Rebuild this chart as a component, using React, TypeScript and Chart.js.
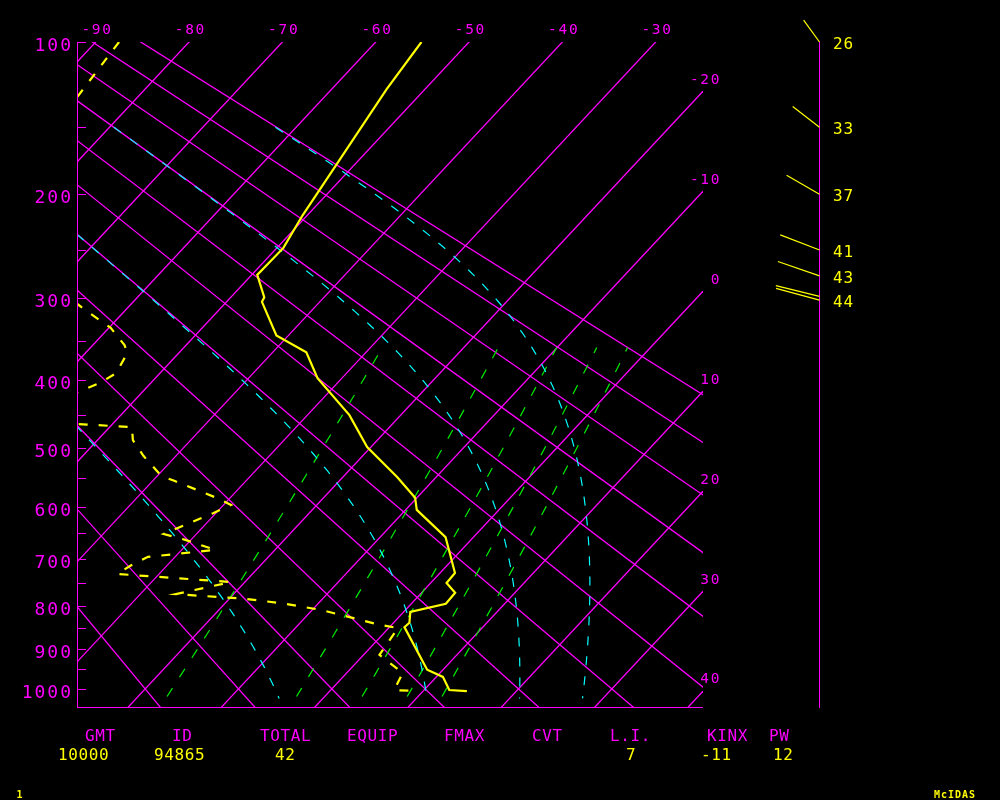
import React, { useEffect, useRef } from "react";
import { Chart, registerables } from "chart.js";

Chart.register(...registerables);

// ---- diagram geometry (p^kappa vertical, skewed temperature) ----
const KAPPA = 0.286;
const SKEW = 18.6; // degC of skew per unit of p^kappa
const P_TOP = 100;
const P_BOTTOM = 1048;
const X_LEFT = -91.9; // temperature at 100 hPa on left edge
const X_RIGHT = -24.93; // temperature at 100 hPa on right edge

// ---- reference line sets ----
const isotherms = [-90, -80, -70, -60, -50, -40, -30, -20, -10, 0, 10, 20, 30, 40];
const dryAdiabats = [-20, -10, 0, 10, 20, 30, 40, 50, 60, 70, 80, 90];
const mixingRatios = [1, 3, 5, 7, 9];
const moistAdiabats = [0, 30, 60, 90];
const pressureTicks = [100, 150, 200, 250, 300, 350, 400, 450, 500, 550, 600, 650, 700, 750, 800, 850, 900, 950, 1000];
const pressureLabels = [100, 200, 300, 400, 500, 600, 700, 800, 900, 1000];
const topTempLabels = [-90, -80, -70, -60, -50, -40, -30];
const rightTempLabels = [-20, -10, 0, 10, 20, 30, 40];

// ---- sounding ----
const tempPressure = [100, 126, 175, 218, 248, 275, 299, 304, 343, 364, 398, 450, 499, 548, 584, 606, 657, 729, 750, 771, 795, 813, 838, 848, 951, 969, 1003, 1006];
const tempValues = [-55.1, -54.1, -52.0, -50.5, -49.3, -49.4, -46.4, -46.2, -41.3, -36.4, -32.6, -25.5, -20.4, -14.2, -10.2, -8.8, -3.0, 1.6, 1.7, 3.6, 3.7, 0.7, 1.7, 1.6, 8.3, 10.7, 12.7, 14.7];

const dewPressure = [100, 130, 159, 275, 310, 327, 334, 355, 365, 391, 404, 417, 428, 460, 468, 488, 513, 546, 555, 572, 586, 597, 612, 651, 662, 682, 696, 714, 731, 748, 774, 784, 794, 809, 831, 843, 850, 914, 959, 1003, 1005];
const dewValues = [-87.5, -86.5, -85.1, -72.7, -65.0, -61.3, -59.8, -56.6, -55.5, -54.7, -55.4, -56.9, -60.2, -58.0, -47.6, -46.2, -43.5, -39.6, -37.6, -34.0, -31.1, -29.2, -30.3, -33.5, -30.7, -26.4, -32.9, -33.9, -34.5, -21.5, -26.2, -18.4, -13.9, -9.0, -3.9, -1.2, 1.0, 1.7, 6.0, 6.8, 8.6];

// ---- winds ----
const windPressure = [100, 150, 200, 250, 276, 298, 302];
const windSpeed = [26, 33, 37, 41, 43, 44, 44];
const windDir = [324, 308, 300, 291, 289, 284, 285];
const windLabels = ["26", "33", "37", "41", "43", "", "44"];

// ---- footer ----
const footerHeads = ["GMT", "ID", "TOTAL", "EQUIP", "FMAX", "CVT", "L.I.", "KINX", "PW"];
const footerHeadX = [85, 172, 260, 347, 444, 532, 610, 707, 769];
const footerValues = ["10000", "94865", "42", "7", "-11", "12"];
const footerValueX = [58, 154, 275, 626, 701, 773];

const MAGENTA = "#ff00ff";
const YELLOW = "#ffff00";
const CYAN = "#00ffff";
const GREEN = "#00ee00";

const Y0 = Math.pow(P_TOP, KAPPA);
const Y1000 = Math.pow(1000, KAPPA);
const YBOT = Math.pow(P_BOTTOM, KAPPA);

function toXY(t: number, p: number) {
  const y = Math.pow(p, KAPPA);
  return { x: t - SKEW * (y - Y0), y };
}

function satVap(tc: number) {
  return 6.112 * Math.exp((17.67 * tc) / (tc + 243.5));
}

function thetaE(tc: number, p: number) {
  const tk = tc + 273.15;
  const es = satVap(tc);
  const ws = (0.622 * es) / (p - es);
  const th = tk * Math.pow(1000 / p, KAPPA);
  return th * Math.exp((2.5e6 * ws) / (1004 * tk));
}

function moistLine(thetaEc: number) {
  const target = thetaEc + 273.15;
  const pts: { x: number; y: number }[] = [];
  for (let p = 150; p <= 1025; p += 5) {
    let lo = -130,
      hi = 50;
    for (let i = 0; i < 50; i++) {
      const mid = (lo + hi) / 2;
      if (thetaE(mid, p) > target) hi = mid;
      else lo = mid;
    }
    pts.push(toXY((lo + hi) / 2, p));
  }
  return pts;
}

function mixingLine(w: number) {
  const pts: { x: number; y: number }[] = [];
  const tAt = (p: number) => {
    const es = (w * p) / (622 + w);
    const l = Math.log(es / 6.112);
    return (243.5 * l) / (17.67 - l);
  };
  for (let p = 1020; p > 358; p -= 20) pts.push(toXY(tAt(p), p));
  pts.push(toXY(tAt(358), 358));
  return pts;
}

function drawStr(
  ctx: CanvasRenderingContext2D,
  s: string,
  x: number,
  y: number,
  size: number,
  color: string,
  align: "left" | "right" | "center",
  spacing: number,
  bold = false
) {
  ctx.save();
  ctx.font = `${bold ? "bold " : ""}${size}px "DejaVu Sans Mono", monospace`;
  ctx.fillStyle = color;
  ctx.textBaseline = "alphabetic";
  ctx.textAlign = "left";
  const adv = ctx.measureText("0").width + spacing;
  const w = adv * s.length - spacing;
  const x0 = align === "left" ? x : align === "right" ? x - w : x - w / 2;
  for (let i = 0; i < s.length; i++) ctx.fillText(s[i], x0 + i * adv, y);
  ctx.restore();
}

const skewPlugin = {
  id: "skewDecor",
  beforeDraw(chart: any) {
    const ctx = chart.ctx;
    ctx.save();
    ctx.fillStyle = "#000";
    ctx.fillRect(0, 0, chart.width, chart.height);
    ctx.restore();
  },
  beforeDatasetsDraw(chart: any) {
    const ctx = chart.ctx as CanvasRenderingContext2D;
    const xs = chart.scales.x;
    const ys = chart.scales.y;
    const left = Math.round(xs.getPixelForValue(X_LEFT));
    const right = Math.round(xs.getPixelForValue(X_RIGHT));
    const top = Math.round(ys.getPixelForValue(Y0));
    const bottom = Math.round(ys.getPixelForValue(YBOT));
    ctx.save();
    ctx.fillStyle = MAGENTA;
    ctx.fillRect(left - 1, top, 1, bottom - top + 1);
    ctx.fillRect(left - 1, bottom, right - left + 1, 1);
    for (const p of pressureTicks) {
      const py = Math.round(ys.getPixelForValue(Math.pow(p, KAPPA)));
      ctx.fillRect(left - 1, py, 9, 1);
    }
    // wind staff
    ctx.fillRect(819, top, 1, bottom - top + 1);
    ctx.restore();
  },
  afterDatasetsDraw(chart: any) {
    const ctx = chart.ctx as CanvasRenderingContext2D;
    const xs = chart.scales.x;
    const ys = chart.scales.y;
    const right = xs.getPixelForValue(X_RIGHT);
    for (const p of pressureLabels) {
      const py = ys.getPixelForValue(Math.pow(p, KAPPA));
      drawStr(ctx, String(p), 71, py + 9, 18, MAGENTA, "right", 2);
    }
    for (const t of topTempLabels) {
      const px = xs.getPixelForValue(t);
      drawStr(ctx, String(t), px + 0.5, 33.5, 14.5, MAGENTA, "center", 1.7);
    }
    for (const t of rightTempLabels) {
      const yv = Y0 + (t - X_RIGHT) / SKEW;
      const py = ys.getPixelForValue(yv);
      drawStr(ctx, String(t), right + 16.5, py - 7.7, 14.5, MAGENTA, "right", 1.7);
    }
    ctx.save();
    ctx.strokeStyle = YELLOW;
    ctx.lineWidth = 1.2;
    for (let i = 0; i < windPressure.length; i++) {
      const py = ys.getPixelForValue(Math.pow(windPressure[i], KAPPA));
      const len = windSpeed[i] + 1;
      const a = (windDir[i] * Math.PI) / 180;
      ctx.beginPath();
      ctx.moveTo(819.5, py);
      ctx.lineTo(819.5 + len * Math.sin(a), py - len * Math.cos(a));
      ctx.stroke();
      if (windLabels[i]) drawStr(ctx, windLabels[i], 833, py + 6.8, 16, YELLOW, "left", 0.8);
    }
    ctx.restore();
    footerHeads.forEach((s, i) => drawStr(ctx, s, footerHeadX[i], 741, 16, MAGENTA, "left", 0.6));
    footerValues.forEach((s, i) => drawStr(ctx, s, footerValueX[i], 760, 16, YELLOW, "left", 0.6));
    drawStr(ctx, "1", 16.5, 798, 10, YELLOW, "left", 1, true);
    drawStr(ctx, "McIDAS", 934, 798, 10, YELLOW, "left", 1, true);
  },
};

export default function App() {
  const ref = useRef<HTMLCanvasElement | null>(null);
  useEffect(() => {
    if (!ref.current) return;
    const datasets: any[] = [];
    const base = { showLine: true, pointRadius: 0, pointHoverRadius: 0, tension: 0, clip: 0, fill: false };
    const yA = Y0 - 0.3;
    const yB = YBOT + 0.3;
    for (const t of isotherms) {
      datasets.push({
        ...base,
        data: [
          { x: t - SKEW * (yA - Y0), y: yA },
          { x: t - SKEW * (yB - Y0), y: yB },
        ],
        borderColor: MAGENTA,
        borderWidth: 1.3,
        order: 5,
      });
    }
    for (const th of dryAdiabats) {
      const tk = th + 273.15;
      const f = (y: number) => ({ x: (tk * y) / Y1000 - 273.15 - SKEW * (y - Y0), y });
      datasets.push({ ...base, data: [f(yA), f(yB)], borderColor: MAGENTA, borderWidth: 1.3, order: 5 });
    }
    for (const w of mixingRatios) {
      datasets.push({ ...base, data: mixingLine(w), borderColor: GREEN, borderWidth: 1.2, borderDash: [10, 13], order: 4 });
    }
    for (const te of moistAdiabats) {
      datasets.push({ ...base, data: moistLine(te), borderColor: CYAN, borderWidth: 1.2, borderDash: [9, 11], order: 3 });
    }
    datasets.push({
      ...base,
      data: dewPressure.map((p, i) => toXY(dewValues[i], p)),
      borderColor: YELLOW,
      borderWidth: 2.2,
      borderDash: [9, 11],
      order: 1,
    });
    datasets.push({
      ...base,
      data: tempPressure.map((p, i) => toXY(tempValues[i], p)),
      borderColor: YELLOW,
      borderWidth: 2.2,
      order: 0,
    });

    const chart = new Chart(ref.current, {
      type: "scatter",
      data: { datasets },
      options: {
        animation: false,
        responsive: false,
        events: [],
        layout: { padding: { left: 78, right: 297, top: 42, bottom: 93 } },
        plugins: { legend: { display: false }, tooltip: { enabled: false } },
        scales: {
          x: { type: "linear", min: X_LEFT, max: X_RIGHT, display: false },
          y: { type: "linear", min: Y0, max: YBOT, reverse: true, display: false },
        },
      },
      plugins: [skewPlugin],
    });
    return () => chart.destroy();
  }, []);
  return (
    <div style={{ position: "fixed", left: 0, top: 0, width: 1000, height: 800, background: "#000" }}>
      <canvas ref={ref} width={1000} height={800} style={{ width: 1000, height: 800, display: "block" }} />
    </div>
  );
}
